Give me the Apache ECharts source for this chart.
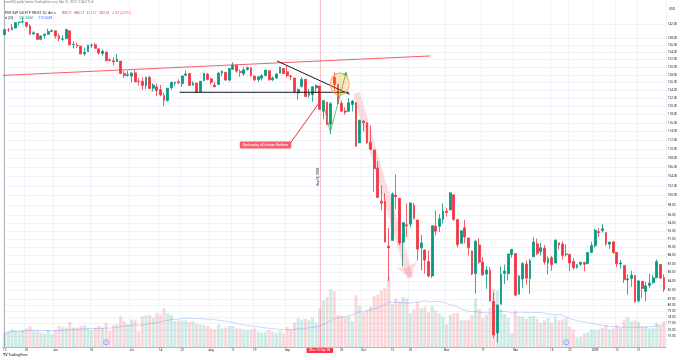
<!DOCTYPE html>
<html><head><meta charset="utf-8">
<script src="https://cdn.jsdelivr.net/npm/echarts@6/dist/echarts.min.js"></script>
<style>html,body{margin:0;padding:0;background:#fff}#c{width:680px;height:360px}</style>
</head><body><div id="c"></div>
<script>
// trading days per month (May 2008 - Jan 2009)
const daysMay08 = [12,13,14,15,16,19,20,21,22,23,27,28,29,30];
const daysJun08 = [2,3,4,5,6,9,10,11,12,13,16,17,18,19,20,23,24,25,26,27,30];
const daysJul08 = [1,2,3,7,8,9,10,11,14,15,16,17,18,21,22,23,24,25,28,29,30,31];
const daysAug08 = [1,4,5,6,7,8,11,12,13,14,15,18,19,20,21,22,25,26,27,28,29];
const daysSep08 = [2,3,4,5,8,9,10,11,12,15,16,17,18,19,22,23,24,25,26,29,30];
const daysOct08 = [1,2,3,6,7,8,9,10,13,14,15,16,17,20,21,22,23,24,27,28,29,30,31];
const daysNov08 = [3,4,5,6,7,10,11,12,13,14,17,18,19,20,21,24,25,26,28];
const daysDec08 = [1,2,3,4,5,8,9,10,11,12,15,16,17,18,19,22,23,24,26,29,30,31];
const daysJan09 = [2,5,6,7,8,9,12,13,14,15,16,20,21,22,23,26,27,28,29,30];

const open = [
138.94,140.30,140.30,140.84,142.39,142.53,142.45,141.41,139.08,139.22,137.60,138.65,139.05,139.84,
140.00,138.64,137.63,137.75,140.01,136.08,135.90,135.71,133.58,134.18,135.89,136.07,134.96,133.69,134.10,131.98,131.72,131.45,131.63,128.36,127.81,
127.67,128.50,126.30,126.29,125.18,127.34,124.53,124.87,124.16,122.68,121.47,124.63,125.82,126.18,125.71,127.89,128.32,125.35,125.78,123.64,126.45,128.14,
126.94,125.33,125.49,128.40,128.65,126.63,129.44,130.48,128.86,128.21,129.39,129.81,127.67,126.73,127.11,127.76,129.05,126.70,127.13,128.38,129.65,
128.78,127.66,127.18,123.32,124.95,126.80,122.75,122.90,124.59,125.09,118.83,121.03,115.71,127.30,125.54,120.76,118.88,118.79,120.45,120.91,111.38,
116.42,116.06,111.52,109.76,105.76,98.89,98.84,90.23,91.28,100.10,99.46,90.95,94.23,94.35,98.04,95.17,89.91,89.51,87.43,84.89,93.95,93.94,95.31,
96.87,97.13,100.18,95.24,90.74,93.68,91.72,89.34,85.31,90.44,87.32,85.23,85.90,80.59,75.58,80.12,85.34,85.29,88.69,
88.86,81.79,84.36,86.98,84.44,88.27,90.65,89.22,89.84,87.15,88.11,87.15,90.82,90.60,88.70,88.72,87.43,86.39,86.95,87.24,87.06,89.06,
90.30,92.92,93.12,92.75,90.57,90.99,89.04,86.98,86.73,84.20,84.45,84.96,80.68,83.97,82.22,83.25,83.73,84.57,86.89,84.57];
const high = [
140.41,140.82,142.02,142.44,142.58,144.02,142.45,141.91,139.91,139.22,138.74,139.13,140.63,140.45,
140.00,139.31,138.82,140.41,140.01,137.06,136.68,135.71,135.30,136.00,136.47,136.66,134.96,134.77,134.10,132.38,132.60,133.56,131.63,128.95,129.03,
128.53,129.22,127.15,127.39,127.42,127.74,125.77,125.72,125.35,123.44,124.55,126.23,126.22,126.77,127.74,129.12,128.32,126.32,126.02,126.32,128.43,128.49,
127.05,126.05,128.49,129.17,128.65,129.79,131.32,130.48,129.40,130.01,130.21,130.02,127.67,127.60,128.16,129.31,129.05,127.57,128.51,130.07,129.76,
130.30,128.06,127.18,124.49,127.44,126.87,124.39,124.99,125.51,125.09,121.48,121.03,121.11,128.60,125.54,121.48,119.74,122.00,121.58,120.91,116.80,
116.70,116.06,115.38,109.76,107.29,102.11,100.53,93.64,100.69,104.43,99.46,94.77,98.46,98.54,98.54,95.17,92.28,89.61,89.38,94.05,97.00,96.32,98.44,
97.55,100.75,100.18,95.24,93.15,95.20,91.72,89.34,91.30,91.69,88.23,86.59,86.46,82.05,80.12,86.56,86.89,88.77,89.63,
88.86,85.05,87.31,87.56,87.94,91.86,91.63,90.83,90.46,88.32,88.46,91.47,90.83,91.10,90.55,88.74,88.04,86.98,87.37,87.37,89.11,91.03,
93.47,93.66,94.39,92.75,91.00,91.19,89.04,87.70,86.73,85.16,85.81,84.96,84.17,83.97,83.86,85.25,85.05,87.79,86.89,85.17];
const low = [
138.62,139.65,140.30,140.69,141.46,142.16,140.91,138.88,139.02,137.37,137.31,137.82,138.86,139.81,
137.78,137.01,137.17,137.75,135.99,135.06,135.15,133.55,133.13,134.17,135.21,135.05,133.34,133.09,131.45,131.53,130.44,131.45,128.32,127.20,127.49,
126.07,126.15,125.20,124.07,124.28,124.46,123.68,122.54,122.50,120.04,121.14,124.14,125.18,125.57,124.88,127.61,125.15,125.18,123.44,123.64,126.45,126.57,
125.45,124.75,125.47,127.60,126.43,126.21,129.28,128.56,127.49,127.68,129.07,127.45,126.31,126.12,126.52,127.76,126.49,126.32,127.00,128.38,128.27,
127.22,126.56,123.28,121.72,124.71,122.45,122.16,121.15,123.38,119.27,116.93,115.59,113.35,123.90,120.56,118.82,117.98,118.79,118.75,110.64,111.38,
114.08,111.14,109.81,100.80,99.62,97.10,90.92,83.98,91.28,97.21,90.40,86.58,91.87,93.75,95.25,87.58,85.84,85.29,84.68,84.53,92.23,92.89,94.46,
95.88,97.13,94.99,89.97,90.69,90.75,88.49,85.05,81.87,86.99,84.90,82.68,80.62,74.78,74.10,80.12,83.50,84.14,88.12,
81.57,81.79,82.76,83.36,81.84,88.27,88.54,88.55,86.87,85.14,85.77,87.15,89.59,87.74,88.30,85.71,86.01,86.14,86.65,85.71,87.06,88.94,
89.94,91.95,92.73,90.24,89.68,88.83,86.43,86.20,83.69,81.70,83.07,80.45,80.43,81.13,80.61,82.77,83.54,84.57,84.42,82.17];
const close = [
140.36,140.30,140.87,142.36,142.54,142.66,141.34,139.07,139.44,137.59,138.54,139.08,139.83,140.04,
138.57,137.77,137.72,140.41,136.07,136.18,135.84,133.55,133.99,136.00,136.01,135.09,133.78,134.28,131.79,131.80,131.43,132.20,128.32,127.84,128.00,
128.49,126.15,126.29,125.23,127.37,124.47,125.34,123.95,122.83,121.49,124.54,126.03,126.07,126.00,127.70,128.22,125.25,125.78,123.44,126.32,128.43,126.74,
126.03,124.90,128.49,128.92,126.61,129.63,130.53,128.96,128.58,129.29,129.82,127.86,126.67,127.45,127.77,129.22,126.68,127.15,128.17,130.07,128.28,
127.76,127.50,123.68,124.23,126.78,122.45,123.20,124.90,125.17,119.27,121.36,115.64,120.65,125.51,120.71,118.82,118.59,120.92,121.33,110.64,116.64,
116.11,111.43,109.92,105.69,99.62,98.49,90.99,89.92,100.34,99.80,90.78,94.64,94.06,98.54,95.51,89.68,90.81,87.68,84.89,94.05,93.01,95.41,96.88,
96.63,100.58,95.28,90.49,93.10,91.92,89.90,85.23,91.13,87.33,85.08,85.91,80.66,75.24,80.00,85.18,85.74,88.77,89.62,
81.62,84.88,87.07,84.52,87.61,90.97,88.87,89.92,87.36,87.97,86.86,91.32,90.44,88.53,88.79,87.16,86.32,86.82,87.28,86.94,89.06,90.33,
93.18,92.75,93.47,90.67,90.97,89.04,87.03,87.18,84.26,84.37,85.01,80.52,84.02,82.75,83.20,83.66,84.57,87.41,84.51,82.59];
// volume, millions of shares
const volume = [
170,190,220,200,190,210,230,260,200,200,180,170,210,160,
210,260,250,240,310,240,240,260,270,230,210,240,260,240,300,200,270,280,380,320,280,
340,340,190,380,390,400,360,420,400,480,420,400,320,330,330,330,310,320,290,280,270,260,
230,220,280,230,240,260,260,230,230,220,210,220,230,190,180,190,210,190,170,200,170,
250,220,300,360,340,350,330,370,300,480,580,620,720,690,400,380,370,380,320,640,510,
430,450,500,630,650,700,730,870,530,600,560,620,600,420,470,560,480,500,430,510,450,420,380,
280,400,420,420,330,330,340,400,600,470,360,400,490,720,700,470,410,360,170,
450,380,380,350,380,390,350,300,330,360,300,380,330,340,360,250,220,120,130,170,180,220,
210,220,240,270,220,230,270,240,340,370,320,330,310,260,260,230,240,300,260,320];

// axis tick labels
const tickIndex = [0,6,14,24,35,43,49,57,63,69,78,87,93,99,107,112,122,132,141,151,156,163,169,175];
const tickText  = ['12','20','Jun','16','Jul','14','22','Aug','11','19','Sep','15','23','Oct','13','20','Nov','17','Dec','15','22','2009','12','21'];
const priceTicks = [142,138,136,134,132,130,128,126,124,122,120,118,116,114,112,110,108,106,104,102,100,98,96,94.5,93,91.5,90,88.5,87,85.5,84,82.5,81,80,79,78,77,76,75];

// drawings (x = trading-day index, y = price)
const redTrend   = [[-0.5,127.84],[117.5,133.0]];
const supportLn  = [[48.3,123.5],[95.0,123.5]];
const fallLn     = [[75.2,131.65],[95.2,123.0]];
const greenLeg1  = [[87.7,121.6],[89.9,113.9]];
const greenLeg2  = [[89.9,113.9],[94.3,128.74]];
const pinkArrow  = [[97.1,123.33],[111.95,84.56]];
const calloutLn  = [[78.9,111.37],[86.6,120.6]];
const circlePt   = [92.5,125.6];
const calloutPt  = [72.0,110.9];
const vTextPt    = [86.6,103.9];
const dividendPts= [[28,74.13],[155,74.13]];
const lehmanIdx  = 87;

const dates = [];
[['2008-05',daysMay08],['2008-06',daysJun08],['2008-07',daysJul08],['2008-08',daysAug08],['2008-09',daysSep08],
 ['2008-10',daysOct08],['2008-11',daysNov08],['2008-12',daysDec08],['2009-01',daysJan09]].forEach(([m,ds])=>{
  ds.forEach(d=>dates.push(m+'-'+String(d).padStart(2,'0')));
});
const N = dates.length;
const tickMap = {}; tickIndex.forEach((k,j)=>tickMap[k]=tickText[j]);
const isTick = i => tickMap[i] !== undefined;

const upC='#089981', dnC='#f23645';
const ohlc = dates.map((d,i)=>[open[i],close[i],low[i],high[i]]);
const volData = volume.map((v,i)=>({value:v,itemStyle:{color: close[i]>=open[i]?'rgba(8,153,129,0.2)':'rgba(242,54,69,0.2)'}}));
const volMA = volume.map((v,i)=>{const s=Math.max(0,i-19);let t=0;for(let k=s;k<=i;k++)t+=volume[k];return +(t/(i-s+1)).toFixed(2);});
const L = N-1;
const chg = close[L]-close[L-1], pct = chg/close[L-1]*100;
const f2 = v=>v.toFixed(2);
const FONT = 'Roboto, "DejaVu Sans", sans-serif';

const chart = echarts.init(document.getElementById('c'));
chart.setOption({
  animation:false,
  backgroundColor:'#ffffff',
  textStyle:{fontFamily:FONT},
  grid:{left:2,right:14,top:0,bottom:13},
  xAxis:[{
    type:'category',data:dates,boundaryGap:true,
    axisLine:{show:true,lineStyle:{color:'#b2b5be',width:1}},
    axisTick:{show:false},
    axisLabel:{interval:(i)=>isTick(i),formatter:(v,i)=>tickMap[i]||'',fontSize:3,color:'#131722',margin:2},
    splitLine:{show:true,interval:(i)=>isTick(i),lineStyle:{color:'#f0f3fa',width:1}}
  },{type:'value',min:-0.5,max:N-0.5,show:false}],
  yAxis:[{
    type:'log',logBase:10,position:'right',min:73.43,max:149.1,
    axisLine:{show:true,lineStyle:{color:'#b2b5be',width:1}},
    axisTick:{show:false,customValues:priceTicks},
    axisLabel:{customValues:priceTicks,formatter:v=>Number(v).toFixed(2),fontSize:3,color:'#131722',margin:2},
    splitLine:{show:true,lineStyle:{color:'#f0f3fa',width:1}}
  },{type:'value',min:0,max:4300,show:false,splitLine:{show:false}}],
  series:[
    {type:'bar',xAxisIndex:0,yAxisIndex:1,data:volData,barWidth:'82%',z:1,silent:true},
    {type:'line',xAxisIndex:0,yAxisIndex:1,data:volMA,symbol:'none',z:1,lineStyle:{color:'rgba(41,98,255,0.25)',width:1}},
    {type:'candlestick',xAxisIndex:0,yAxisIndex:0,data:ohlc,barWidth:'64%',z:2,
      itemStyle:{color:upC,color0:dnC,borderColor:upC,borderColor0:dnC,borderWidth:0.8},
      markLine:{symbol:'none',silent:true,animation:false,data:[
        {xAxis:dates[lehmanIdx],lineStyle:{color:'rgba(242,54,69,0.3)',width:1,type:'solid'},
          label:{show:true,position:'start',distance:1,formatter:"Mon 15 Sep '08",color:'#fff',backgroundColor:'#f23645',fontSize:3,padding:[1,3],borderRadius:1}},
        {yAxis:close[L],lineStyle:{opacity:0},
          label:{show:true,position:'end',distance:1,formatter:f2(close[L]),color:'#fff',backgroundColor:'#f23645',fontSize:3,padding:[1,1],borderRadius:1}}
      ]}},
    {type:'line',xAxisIndex:1,yAxisIndex:0,data:redTrend,symbol:'none',clip:false,z:3,lineStyle:{color:'rgba(242,54,69,0.8)',width:1}},
    {type:'line',xAxisIndex:1,yAxisIndex:0,data:supportLn,symbol:'none',clip:false,z:3,lineStyle:{color:'#131722',width:1}},
    {type:'line',xAxisIndex:1,yAxisIndex:0,data:fallLn,symbol:'none',clip:false,z:3,lineStyle:{color:'#131722',width:1}},
    {type:'line',xAxisIndex:1,yAxisIndex:0,data:greenLeg1,symbol:'none',clip:false,z:3,lineStyle:{color:'#4caf50',width:0.8},
      markLine:{silent:true,animation:false,symbol:['none','arrow'],symbolSize:4,label:{show:false},
        lineStyle:{color:'#4caf50',width:0.8,type:'solid'},
        data:[[{coord:greenLeg2[0]},{coord:greenLeg2[1]}]]}},
    {type:'line',xAxisIndex:1,yAxisIndex:0,data:calloutLn,symbol:'none',clip:false,z:3,lineStyle:{color:'#f23645',width:1}},
    {type:'line',xAxisIndex:1,yAxisIndex:0,data:[],symbol:'none',z:3,
      markLine:{silent:true,animation:false,symbol:['none','arrow'],symbolSize:[16,14],label:{show:false},
        lineStyle:{color:'rgba(242,54,69,0.17)',width:7,type:'solid'},
        data:[[{coord:pinkArrow[0]},{coord:pinkArrow[1]}]]}},
    {type:'scatter',xAxisIndex:1,yAxisIndex:0,data:[circlePt],symbol:'circle',symbolSize:[19,22],z:4,silent:true,
      itemStyle:{color:'rgba(255,152,0,0.32)',borderColor:'#f5a04a',borderWidth:1}},
    {type:'scatter',xAxisIndex:1,yAxisIndex:0,data:[calloutPt],symbolSize:0,z:5,silent:true,
      label:{show:true,position:'inside',formatter:'Bankruptcy of Lehman Brothers',color:'#ffffff',fontSize:3.2,fontWeight:'bold',backgroundColor:'#f23645',padding:[2,3],borderRadius:1}},
    {type:'scatter',xAxisIndex:1,yAxisIndex:0,data:[vTextPt],symbolSize:0,z:5,silent:true,
      label:{show:true,position:'inside',rotate:90,formatter:'Sep 15, 2008',color:'#131722',fontSize:3,fontWeight:'bold'}},
    {type:'scatter',xAxisIndex:1,yAxisIndex:0,data:dividendPts,symbol:'circle',symbolSize:5,z:5,silent:true,
      itemStyle:{color:'#e3ecfd',borderColor:'#2962ff',borderWidth:0.6},
      label:{show:true,position:'inside',formatter:'D',color:'#2962ff',fontSize:2.5}}
  ],
  graphic:[
    {type:'text',left:3,top:1,style:{text:'Arrow933 published on TradingView.com, Mar 16, 2023 17:46 UTC-4',fill:'#787b86',fontSize:3,fontFamily:FONT}},
    {type:'text',left:3,top:7.5,style:{
      text:'{t|SPDR S&P 500 ETF TRUST, 1D, Amex}  {k|O}{v|'+f2(open[L])+'} {k|H}{v|'+f2(high[L])+'} {k|L}{v|'+f2(low[L])+'} {k|C}{v|'+f2(close[L])+'} {v|'+f2(chg)+' ('+f2(pct)+'%)}',
      rich:{t:{fill:'#131722',fontSize:3},k:{fill:'#131722',fontSize:3},v:{fill:'#f23645',fontSize:3}},fontFamily:FONT}},
    {type:'text',left:3,top:12.5,style:{
      text:'{t|Vol (20)}  {g|'+volume[L].toFixed(3)+'M}  {b|'+volMA[L].toFixed(3)+'M}',
      rich:{t:{fill:'#131722',fontSize:3},g:{fill:'#089981',fontSize:3},b:{fill:'#2962ff',fontSize:3}},fontFamily:FONT}},
    {type:'text',left:669,top:8,style:{text:'USD',fill:'#131722',fontSize:3,fontFamily:FONT}},
    {type:'text',left:3,top:353,style:{text:'{b|TV} TradingView',rich:{b:{fontWeight:'bold',fontSize:3.5,fill:'#131722'}},fill:'#131722',fontSize:3.5,fontFamily:FONT}}
  ]
});
</script></body></html>
